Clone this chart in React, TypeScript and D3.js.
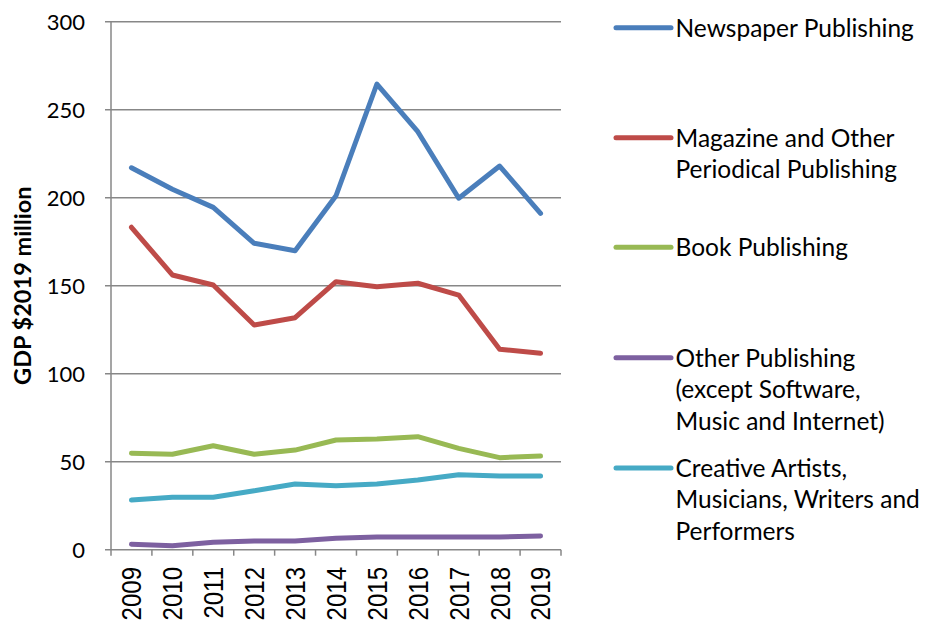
import React from "react";
import * as d3 from "d3";

const years = ["2009","2010","2011","2012","2013","2014","2015","2016","2017","2018","2019"];
const newspaper = [217, 204.8, 194.5, 174.1, 169.9, 201.1, 264.6, 237.5, 199.7, 218, 191.1];
const magazine = [183.2, 156.1, 150.4, 127.7, 131.8, 152.3, 149.4, 151.4, 144.7, 113.9, 111.6];
const book = [54.8, 54.2, 59.1, 54.2, 56.6, 62.3, 62.9, 64.2, 57.6, 52.3, 53.2];
const otherPub = [3.1, 2.3, 4.2, 4.9, 4.9, 6.5, 7.2, 7.2, 7.2, 7.2, 7.8];
const creative = [28.2, 29.8, 29.8, 33.5, 37.3, 36.4, 37.3, 39.6, 42.6, 41.9, 41.9];
const yTicks = [0, 50, 100, 150, 200, 250, 300];

const series = [
  { name: ["Newspaper Publishing"], values: newspaper, color: "#4A7EBB", ly: 27.7 },
  { name: ["Magazine and Other", "Periodical Publishing"], values: magazine, color: "#BE4B48", ly: 137.7 },
  { name: ["Book Publishing"], values: book, color: "#98B954", ly: 247.3 },
  { name: ["Other Publishing", "(except Software,", "Music and Internet)"], values: otherPub, color: "#7D60A0", ly: 357.7 },
  { name: ["Creative Artists,", "Musicians, Writers and", "Performers"], values: creative, color: "#46AAC5", ly: 468 },
];

export default function App() {
  const left = 111, right = 561, top = 21.7, bottom = 549.7;
  const x = d3.scaleBand().domain(years).range([left, right]);
  const y = d3.scaleLinear().domain([0, 300]).range([bottom, top]);
  const line = d3.line<number>().x((_, i) => (x(years[i]) as number) + x.bandwidth() / 2).y((d) => y(d));
  const grid = "#878787";
  const bounds = [...years.map((yr) => x(yr) as number), right];
  return (
    <svg width={926} height={624} style={{ position: "absolute", left: 0, top: 0, background: "#fff" }}>
      {yTicks.map((t) => (
        <g key={t}>
          <line x1={105} x2={right} y1={y(t)} y2={y(t)} stroke={grid} strokeWidth={1.5} />
          <text x={85} y={y(t)} dy="0.36em" textAnchor="end" fontFamily="Lato" fontSize={22} fill="#000">{t}</text>
        </g>
      ))}
      <line x1={left} x2={left} y1={top} y2={bottom} stroke={grid} strokeWidth={1.5} />
      {bounds.map((b, i) => (
        <line key={i} x1={b} x2={b} y1={bottom} y2={bottom + 6} stroke={grid} strokeWidth={1.5} />
      ))}
      {years.map((yr) => {
        const cx = (x(yr) as number) + x.bandwidth() / 2;
        return (
          <g key={yr} transform={`translate(${cx},${567}) scale(1.15,1) rotate(-90)`}>
            <text x={0} y={0} dy="0.36em" textAnchor="end" fontFamily="Liberation Sans" fontSize={24} fill="#000">{yr}</text>
          </g>
        );
      })}
      <text transform={`translate(23,${(top + bottom) / 2}) rotate(-90)`} textAnchor="middle" dy="0.36em" fontFamily="Lato" fontWeight="bold" fontSize={23.5} fill="#000">GDP $2019 million</text>
      {series.map((s) => (
        <path key={s.color} d={line(s.values) || ""} fill="none" stroke={s.color} strokeWidth={5} strokeLinecap="round" strokeLinejoin="round" />
      ))}
      {series.map((s) => (
        <g key={"l" + s.color}>
          <line x1={616} x2={671} y1={s.ly} y2={s.ly} stroke={s.color} strokeWidth={5} strokeLinecap="round" />
          {s.name.map((n, i) => (
            <text key={i} x={675.5} y={s.ly + i * 31.5} dy="0.36em" fontFamily="Lato" fontSize={24.5} fill="#000">{n}</text>
          ))}
        </g>
      ))}
    </svg>
  );
}
